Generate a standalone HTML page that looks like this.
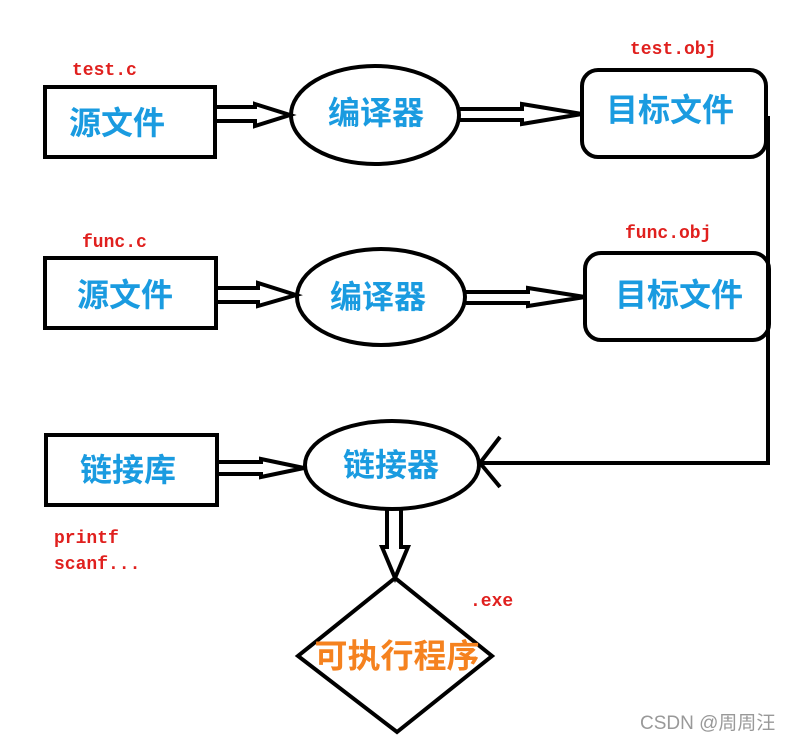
<!DOCTYPE html><html><head><meta charset="utf-8"><style>body{margin:0;background:#fff}svg{display:block}</style></head><body>
<svg width="804" height="742" xmlns="http://www.w3.org/2000/svg">
<g fill="none" stroke="#000" stroke-width="4">
<rect x="45" y="87" width="170" height="70"/>
<ellipse cx="375" cy="115" rx="84" ry="49"/>
<rect x="582" y="70" width="184" height="87" rx="16"/>
<rect x="45" y="258" width="171" height="70"/>
<ellipse cx="381" cy="297" rx="84" ry="48"/>
<rect x="585" y="253" width="184" height="87" rx="16"/>
<rect x="46" y="435" width="171" height="70"/>
<ellipse cx="392" cy="465" rx="87" ry="44"/>
<polygon points="395,578 298,656 397,732 492,656"/>
<polyline points="215,107 255,107 255,104 290,115 255,126 255,121 215,121"/>
<polyline points="460,109 522,109 522,104 582,114 522,124 522,120 460,120"/>
<polyline points="215,288 258,288 258,283 296,295 258,306 258,302 215,302"/>
<polyline points="466,292 528,292 528,288 585,297 528,306 528,303 466,303"/>
<polyline points="217,462 261,462 261,459 304,468 261,477 261,474 217,474"/>
<polyline points="387,510 387,547 382,547 395,578 408,547 401,547 401,510"/>
<polyline points="766,118 768,118 768,463 480,463"/>
<polyline points="500,437 480,463 500,487"/>
</g>
<g font-family="'Liberation Sans','Noto Sans CJK SC',sans-serif" font-size="32" font-weight="bold" fill="#1a9be0" text-anchor="middle" dominant-baseline="central">
<text x="117" y="123">源文件</text>
<text x="376" y="113">编译器</text>
<text x="670" y="110">目标文件</text>
<text x="125" y="295">源文件</text>
<text x="378" y="297">编译器</text>
<text x="679" y="295">目标文件</text>
<text x="128" y="470">链接库</text>
<text x="391" y="465">链接器</text>
<text x="397" y="656" font-size="33" fill="#f5821f">可执行程序</text>
</g>
<g font-family="'Liberation Mono',monospace" font-size="18" font-weight="bold" fill="#e0201e">
<text x="72" y="75">test.c</text>
<text x="630" y="54">test.obj</text>
<text x="82" y="247">func.c</text>
<text x="625" y="238">func.obj</text>
<text x="54" y="543">printf</text>
<text x="54" y="569">scanf...</text>
<text x="470" y="606">.exe</text>
</g>
<text x="640" y="729" font-family="'Liberation Sans','Noto Sans CJK SC',sans-serif" font-size="19" fill="#999">CSDN @周周汪</text>
</svg>
</body></html>
